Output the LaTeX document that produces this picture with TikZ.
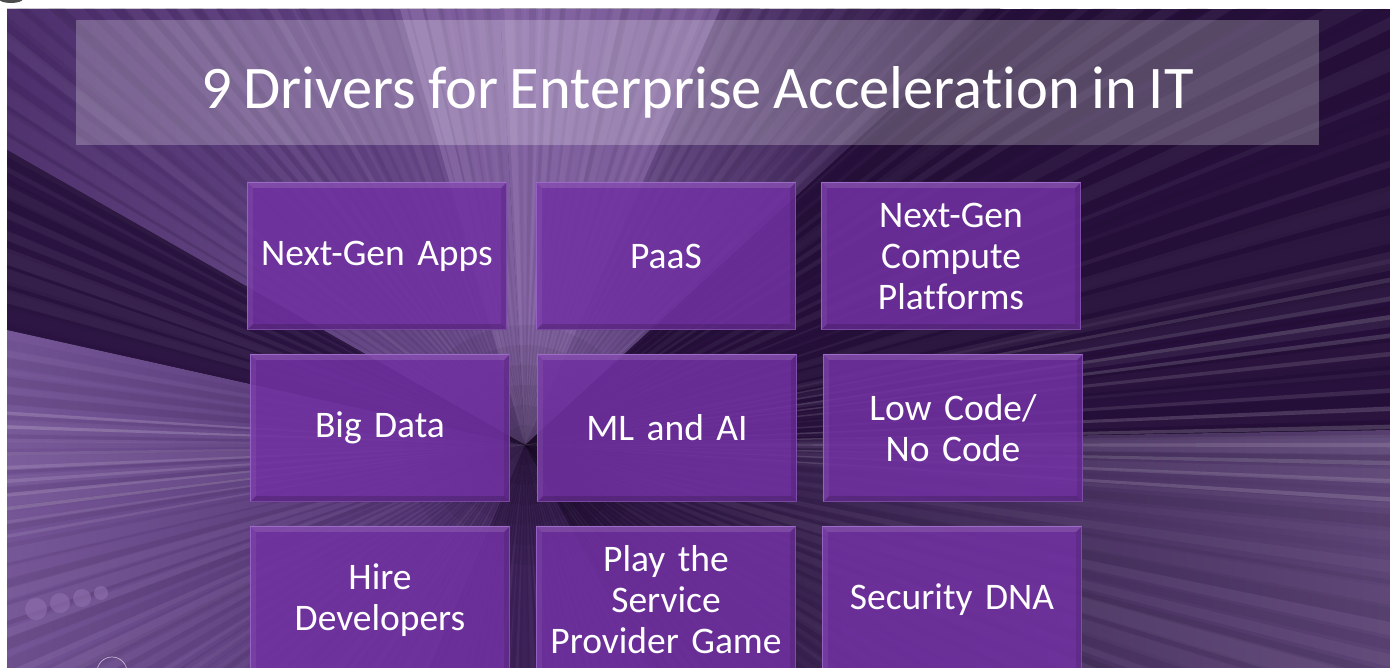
\documentclass[tikz,border=0pt]{standalone}
\usepackage{fontspec}
\setmainfont{Carlito}[Ligatures={NoCommon}, WordSpace=0.85]
\definecolor{bgdark}{HTML}{26103B}
\definecolor{bgmid}{HTML}{4A2C6A}
\definecolor{bglite}{HTML}{7B5B9D}
\definecolor{lav}{HTML}{8E6EAC}
\definecolor{boxfill}{HTML}{7131A2}
\definecolor{boxline}{HTML}{8F56C0}
\begin{document}
\begin{tikzpicture}[x=1pt,y=-1pt,
  drvbox/.style={fill=boxfill, fill opacity=0.87, draw=boxline, line width=1.2pt,
    minimum width=259pt, minimum height=147pt, inner sep=0pt,
    text width=255pt, align=center, text=white, text opacity=1,
    font=\fontsize{37.5}{41}\selectfont},
  titlebox/.style={fill=white, fill opacity=0.24, minimum width=1243pt, minimum height=125pt,
    inner sep=0pt},
  titletext/.style={anchor=base, inner sep=0pt, text=white, font=\fontsize{60.5}{64}\selectfont},
  ray/.style={fill=white}]
\useasboundingbox (0,0) rectangle (1390,668);
\fill[white] (0,0) rectangle (1390,668);
\fill[black!70] (11,-1) ellipse (12 and 4);
\coordinate (V) at (525,445);
\begin{scope}
\clip (7,9) rectangle (1390,668);
\fill[bgdark] (7,9) rectangle (1390,668);
% broad tonal regions
\fill[left color=bgmid, right color=bglite] (7,9) -- (760,9) -- (V) -- (7,150) -- cycle;
\fill[left color=bglite, right color=bgdark] (V) -- (500,9) -- (1000,9) -- cycle;
\fill[lav, opacity=0.55] (V) -- (400,9) -- (720,9) -- cycle;
\fill[bgdark!85!bgmid] (V) -- (7,150) -- (7,330) -- cycle;
\fill[left color=bglite!85!bgmid, right color=bgmid] (V) -- (7,330) -- (7,668) -- (430,668) -- cycle;
\fill[left color=bgdark, right color=bglite!75!black] (V) -- (1390,430) -- (1390,668) -- (650,668) -- cycle;
\fill[bgmid, opacity=0.6] (V) -- (430,668) -- (650,668) -- cycle;
% speed rays
\pgfmathsetseed{11}
\foreach \a in {0,2,...,358} {
  \pgfmathsetmacro\w{0.15+rnd*0.8}
  \pgfmathsetmacro\o{0.01+rnd*0.05}
  \fill[ray, opacity=\o] (V) -- +(\a-\w:1600) -- +(\a+\w:1600) -- cycle;
}
\pgfmathsetseed{5}
\foreach \a in {1,3,...,359} {
  \pgfmathsetmacro\w{0.1+rnd*0.6}
  \pgfmathsetmacro\o{0.02+rnd*0.06}
  \fill[black, opacity=\o] (V) -- +(\a-\w:1600) -- +(\a+\w:1600) -- cycle;
}
% bright horizontal streaks left and right
\pgfmathsetseed{3}
\foreach \a in {170,171.5,...,184} {
  \pgfmathsetmacro\o{0.04+rnd*0.14}
  \fill[ray, opacity=\o] (V) -- +(\a-0.2:1600) -- +(\a+0.2:1600) -- cycle;
}
\foreach \a in {-12,-10.8,...,4} {
  \pgfmathsetmacro\o{0.04+rnd*0.14}
  \fill[ray, opacity=\o] (V) -- +(\a-0.15:1600) -- +(\a+0.15:1600) -- cycle;
}
% dark tunnel centre
\foreach \r in {120,100,...,20} {
  \fill[black, opacity=0.05] (V) circle (\r);
}
% bokeh dots bottom left
\foreach \x/\y/\r in {36/609/11, 60/603/10, 82/598/9, 101/593/7} {
  \fill[lav, opacity=0.65] (\x,\y) circle (\r);
}
\draw[white, opacity=0.6, line width=0.7pt] (112,672) circle (15);
\end{scope}
% title
\node[titlebox] (title) at (697.5,82.5) {};
\node[titletext] (titletxt) at (697.5,109) {9 Drivers for Enterprise Acceleration in IT};
% driver boxes
\node[drvbox] (b1) at (377,256) {Next-Gen Apps};
\node[drvbox] (b2) at (666,256) {PaaS};
\node[drvbox] (b3) at (951,256) {Next-Gen\\Compute\\Platforms};
\node[drvbox] (b4) at (380,428) {Big Data};
\node[drvbox] (b5) at (667,428) {ML and AI};
\node[drvbox] (b6) at (953,428) {Low Code/\\No Code};
\node[drvbox] (b7) at (380,600) {Hire\\Developers};
\node[drvbox] (b8) at (666,600) {Play the\\Service\\Provider Game};
\node[drvbox] (b9) at (952,600) {Security DNA};
% bevels
\foreach \n in {b1,b2,b3,b4,b5,b6,b7,b8,b9} {
  \fill[white, opacity=0.12] (\n.north west) -- (\n.north east) -- ([shift={(-6,6)}]\n.north east) -- ([shift={(6,6)}]\n.north west) -- cycle;
  \fill[white, opacity=0.06] (\n.north west) -- (\n.south west) -- ([shift={(6,-6)}]\n.south west) -- ([shift={(6,6)}]\n.north west) -- cycle;
  \fill[black, opacity=0.16] (\n.south west) -- (\n.south east) -- ([shift={(-6,-6)}]\n.south east) -- ([shift={(6,-6)}]\n.south west) -- cycle;
  \fill[black, opacity=0.10] (\n.north east) -- (\n.south east) -- ([shift={(-6,-6)}]\n.south east) -- ([shift={(-6,6)}]\n.north east) -- cycle;
}
\end{tikzpicture}
\end{document}
